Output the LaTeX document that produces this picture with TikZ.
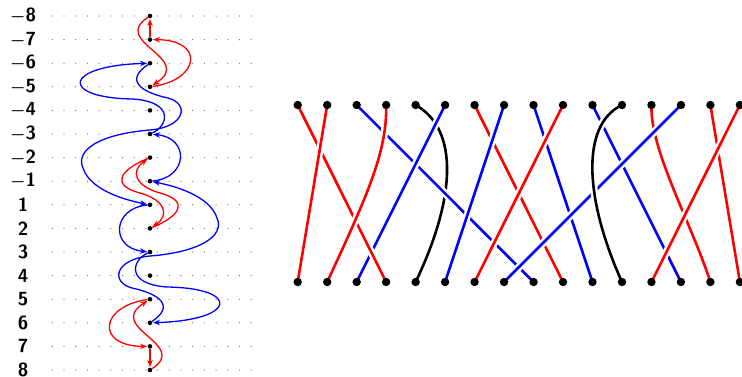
\documentclass[tikz,border=0pt]{standalone}
\usetikzlibrary{arrows.meta}
\begin{document}
\begin{tikzpicture}[x=1pt,y=-1pt,
  lbl/.style={font=\fontsize{19}{19}\selectfont\sffamily\bfseries\boldmath},
  mdot/.style={circle,fill=black,inner sep=0pt,minimum size=4.6pt},
  gdot/.style={fill=black!55},
  bdot/.style={circle,fill=black,inner sep=0pt,minimum size=8.4pt},
  arr/.style={line width=1.3pt,-{Stealth[length=7pt,width=5.5pt]},shorten >=0.5pt},
  rarr/.style={arr,red},
  barr/.style={arr,blue},
  strand/.style={line width=2.6pt,preaction={draw=white,line width=7.5pt}},
]
\useasboundingbox (0,0) rectangle (742,376);

% dotted rows
\foreach \n in {0,...,15}{
  \foreach \i in {0,...,17}{
    \fill[gdot] (52.3+11.7*\i,16+23.6*\n) circle (0.65);
  }
}
% labels
\foreach \t [count=\n from 0] in {$-$8,$-$7,$-$6,$-$5,$-$4,$-$3,$-$2,$-$1,1,2,3,4,5,6,7,8}{
  \node[lbl] (l\n) at (23,16+23.6*\n) {\t};
}
% column dots
\foreach \nm [count=\n from 0] in {m8,m7,m6,m5,m4,m3,m2,m1,p1,p2,p3,p4,p5,p6,p7,p8}{
  \node[mdot] (\nm) at (150,16+23.6*\n) {};
}

% red arrows, top
\draw[rarr] (m7) -- (m8);
\draw[rarr] (m8) .. controls (110,42) and (195,58) .. (m5);
\draw[rarr] (m5) .. controls (200,80) and (205,40) .. (m7);
% red arrows, bottom
\draw[rarr] (p7) -- (p8);
\draw[rarr] (p8) .. controls (190,344) and (105,328) .. (p5);
\draw[rarr] (p5) .. controls (100,306) and (95,346) .. (p7);
% red arrows, middle
\draw[rarr] (m2) .. controls (120,170) and (110,185) .. (140,193) .. controls (165,200) and (170,215) .. (p2);
\draw[rarr] (p2) .. controls (180,216) and (190,201) .. (160,193) .. controls (135,186) and (130,171) .. (m2);

% blue arrows
\draw[barr] (m1) .. controls (188,178) and (190,138) .. (m3);
\draw[barr] (p1) .. controls (112,208) and (110,248) .. (p3);
\draw[barr] (m3) .. controls (168,126) and (175,102) .. (133,99) .. controls (60,98) and (62,66) .. (m6);
\draw[barr] (p3) .. controls (132,260) and (125,284) .. (167,287) .. controls (240,288) and (238,320) .. (p6);
\draw[barr] (m6) .. controls (125,80) and (140,92) .. (168,98) .. controls (190,104) and (185,127) .. (150,130)
  .. controls (100,134) and (75,150) .. (83,168) .. controls (90,190) and (125,200) .. (p1);
\draw[barr] (p6) .. controls (175,306) and (160,294) .. (132,288) .. controls (110,282) and (115,259) .. (150,256)
  .. controls (200,252) and (225,236) .. (217,218) .. controls (210,196) and (175,186) .. (m1);

% braid positions
\foreach \i in {1,...,16}{
  \coordinate (t\i) at (297.7+29.48*\i-29.48,105);
  \coordinate (b\i) at (297.7+29.48*\i-29.48,282);
}
% strands, lower ones first
\draw[strand,black] (t5) .. controls (460,130) and (455,200) .. (b5);
\draw[strand,blue] (t3) -- (b9);
\draw[strand,blue] (t6) -- (b3);
\draw[strand,red] (t1) -- (b4);
\draw[strand,red] (t2) -- (b1);
\draw[strand,red] (t4) .. controls (387,150) and (370,190) .. (b2);
\draw[strand,red] (t7) -- (b10);
\draw[strand,blue] (t8) -- (b6);
\draw[strand,blue] (t9) -- (b11);
\draw[strand,red] (t10) -- (b7);
\draw[strand,blue] (t11) -- (b14);
\draw[strand,red] (t13) .. controls (650,150) and (690,220) .. (b15);
\draw[strand,blue] (t14) -- (b8);
\draw[strand,black] (t12) .. controls (580,125) and (585,200) .. (b12);
\draw[strand,red] (t15) -- (b16);
\draw[strand,red] (t16) -- (b13);
% braid dots
\foreach \i in {1,...,16}{
  \node[bdot] (dt\i) at (t\i) {};
  \node[bdot] (db\i) at (b\i) {};
}
\end{tikzpicture}
\end{document}
